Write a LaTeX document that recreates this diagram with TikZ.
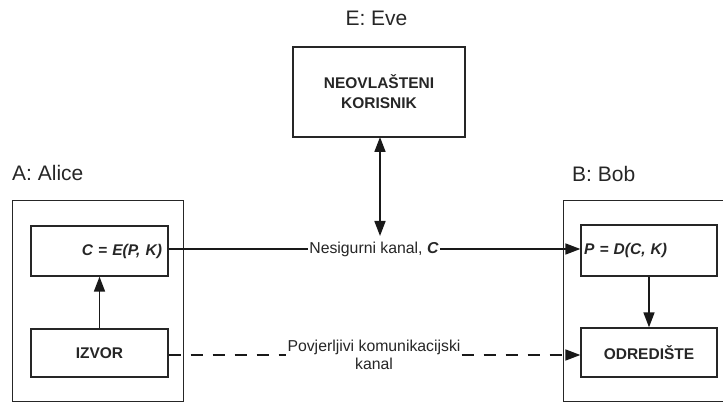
\documentclass[tikz,border=0pt]{standalone}
\usepackage{fontspec}
\setmainfont{Liberation Sans}
\usetikzlibrary{arrows.meta}
\begin{document}
\begin{tikzpicture}[x=1pt,y=-1pt,
  lc/.style={draw=black!85, line width=1.3pt},
  box/.style={lc, rectangle, inner sep=0pt, font=\fontsize{15.5}{20}\selectfont\bfseries, text=black!85},
  conn/.style={black!90, line width=1.7pt},
  arrowhd/.style={-{Triangle[length=15pt,width=11pt]}},
  biglab/.style={font=\fontsize{21}{24}\selectfont, text=black!85, inner sep=0pt},
  chlab/.style={font=\fontsize{15.8}{18}\selectfont, text=black!85, fill=white, inner sep=1pt, align=center}]
\useasboundingbox (0,0) rectangle (723,403);
\clip (0,0) rectangle (723,403);
% outer boxes
\node[lc, rectangle, minimum width=171pt, minimum height=201pt, inner sep=0pt, anchor=north west] (alice) at (12,200) {};
\node[lc, rectangle, minimum width=175pt, minimum height=201pt, inner sep=0pt, anchor=north west] (bob) at (563,200) {};
% titles
\node[biglab, anchor=base west] (alab) at (12,181) {A: Alice};
\node[biglab, anchor=base west] (blab) at (572,182) {B: Bob};
\node[biglab, anchor=base] (elab) at (376.5,26) {E: Eve};
% inner boxes
\node[box, minimum width=137pt, minimum height=50pt, text width=125pt, align=right, font=\fontsize{15.5}{20}\selectfont\bfseries\itshape] (enc) at (99.5,251) {C = E(P, K)};
\node[box, minimum width=137pt, minimum height=48pt, align=center] (izv) at (99.5,353) {IZVOR};
\node[box, minimum width=136pt, minimum height=51pt, text width=130pt, align=left, font=\fontsize{15.5}{20}\selectfont\bfseries\itshape] (dec) at (649,250.5) {P = D(C, K)};
\node[box, minimum width=136pt, minimum height=49pt, align=center] (odr) at (649,352.5) {ODREDIŠTE};
\node[box, minimum width=172pt, minimum height=90pt, align=center] (eve) at (379,92) {NEOVLAŠTENI\\KORISNIK};
% channel labels
\node[chlab] (nes) at (374,249) {Nesigurni kanal, \textbf{\textit{C}}};
\node[chlab] (pov) at (374,355) {Povjerljivi komunikacijski\\kanal};
% connectors
\draw[conn] (enc.east |- nes) -- (nes.west);
\draw[conn, arrowhd] (nes.east) -- (dec.west |- nes);
\draw[conn, dash pattern=on 12pt off 10pt] (izv.east |- pov) -- (pov.west);
\draw[conn, dash pattern=on 12pt off 10pt, arrowhd] (pov.east) -- (odr.west |- pov);
\draw[conn, arrowhd] (izv.north) -- (enc.south);
\draw[conn, arrowhd] (dec.south) -- (odr.north);
\coordinate (evb) at (380,137);
\coordinate (evc) at (380,236);
\draw[conn, {Triangle[length=15pt,width=11pt]}-{Triangle[length=15pt,width=11pt]}] (evb) -- (evc);
\end{tikzpicture}
\end{document}
